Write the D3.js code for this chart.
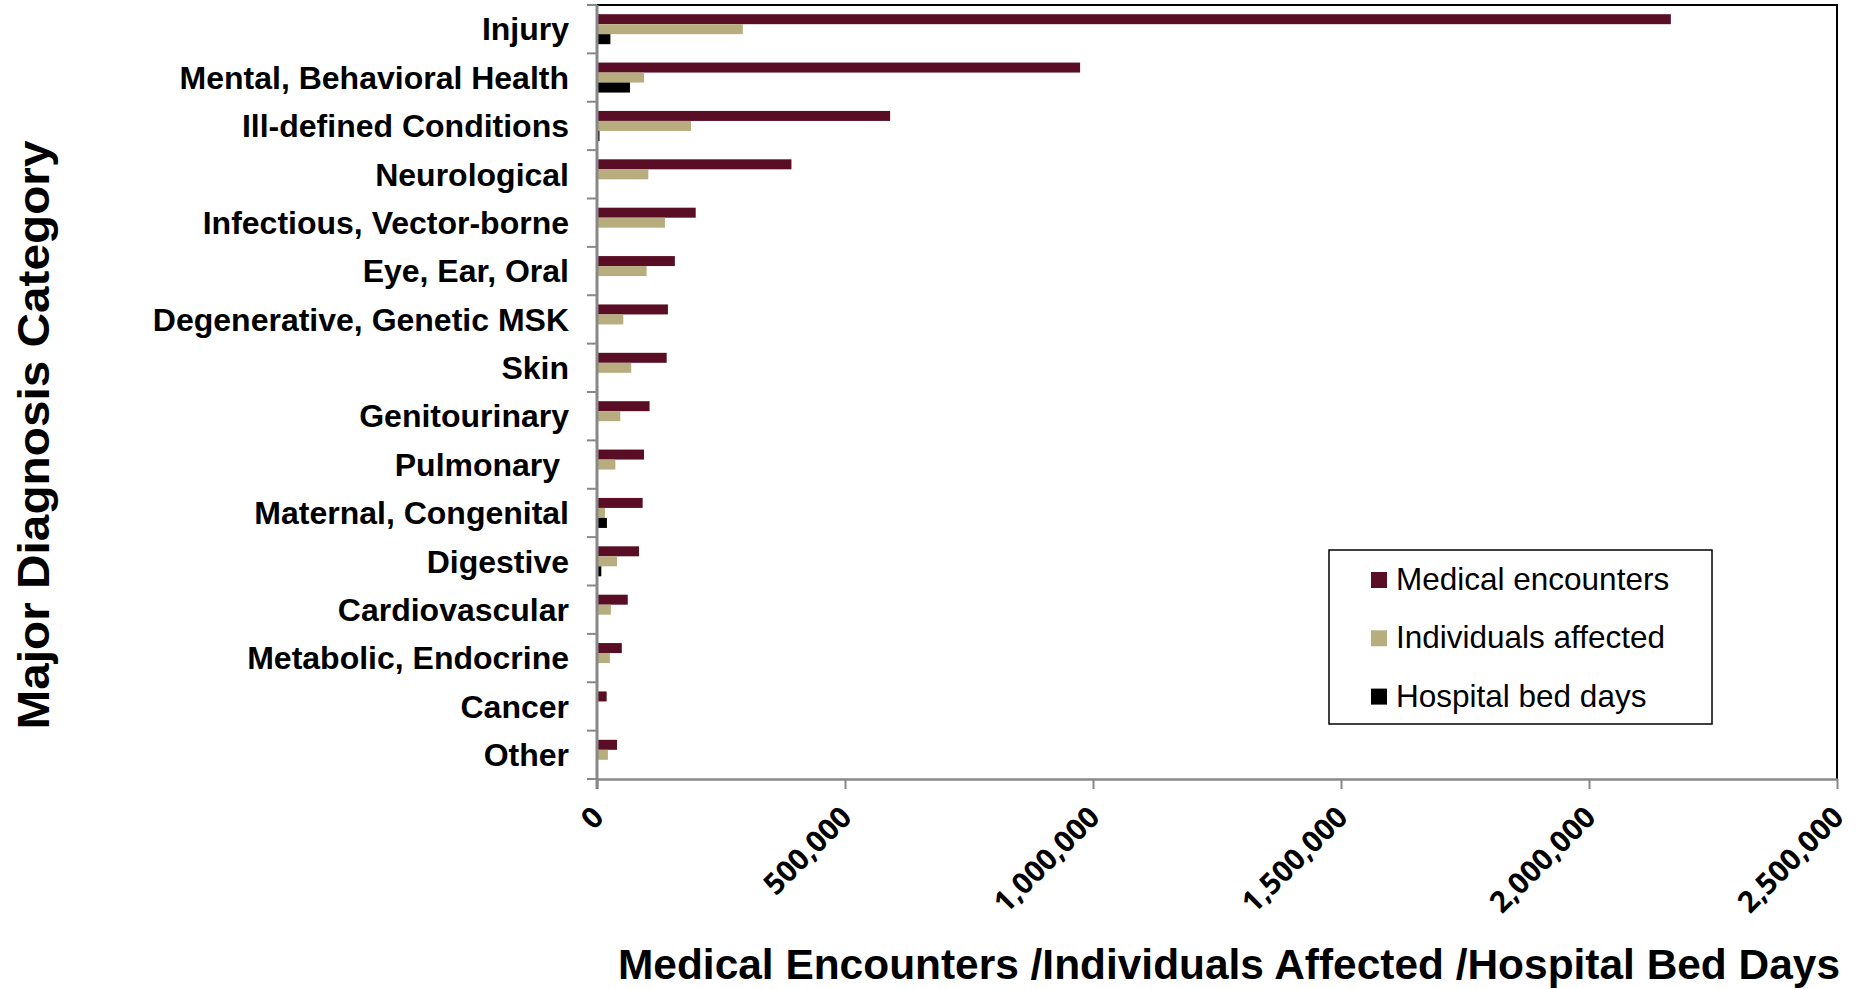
<!DOCTYPE html>
<html>
<head>
<meta charset="utf-8">
<script src="https://cdn.jsdelivr.net/npm/d3@7"></script>
<style>
  body { margin: 0; background: #fff; }
  svg { display: block; }
</style>
</head>
<body>
<svg width="1860" height="989"></svg>
<script>
// categories, top to bottom
var categories = ["Injury", "Mental, Behavioral Health", "Ill-defined Conditions", "Neurological",
  "Infectious, Vector-borne", "Eye, Ear, Oral", "Degenerative, Genetic MSK", "Skin",
  "Genitourinary", "Pulmonary ", "Maternal, Congenital", "Digestive",
  "Cardiovascular", "Metabolic, Endocrine", "Cancer", "Other"];

var medicalEncounters = [2165000, 974000, 591000, 392000, 199000, 157000, 143000, 140500,
  106000, 94700, 92000, 84700, 62000, 50000, 19500, 40300];
var individualsAffected = [294000, 95000, 189500, 103500, 137000, 100000, 53000, 69000,
  47000, 37000, 16000, 40300, 28000, 26000, 1500, 22000];
var hospitalBedDays = [27000, 66500, 5000, 0, 1500, 0, 0, 0,
  0, 0, 20000, 8700, 1500, 0, 0, 0];

var seriesNames = ["Medical encounters", "Individuals affected", "Hospital bed days"];
var seriesColors = ["#5a0e26", "#b8ad7e", "#000000"];
var xTicks = [0, 500000, 1000000, 1500000, 2000000, 2500000];

var svg = d3.select("svg");

var plotL = 597, plotR = 1837, plotT = 5, plotB = 779;

var x = d3.scaleLinear()
    .domain([0, 2500000])
    .range([plotL, plotR]);

var y0 = d3.scaleBand()
    .domain(categories)
    .range([plotT, plotB])
    .paddingInner(0.38)
    .paddingOuter(0.19);

var y1 = d3.scaleBand()
    .domain(seriesNames)
    .range([0, y0.bandwidth()]);

var rows = categories.map(function(c, i) {
  return { cat: c, vals: [medicalEncounters[i], individualsAffected[i], hospitalBedDays[i]] };
});

// plot frame (top and right in black)
svg.append("path")
    .attr("d", "M" + plotL + "," + plotT + "H" + plotR + "V" + plotB)
    .attr("fill", "none")
    .attr("stroke", "#000")
    .attr("stroke-width", 2);

// bars
var groups = svg.append("g").selectAll("g")
  .data(rows)
  .enter().append("g")
    .attr("transform", function(d) { return "translate(0," + y0(d.cat) + ")"; });

groups.selectAll("rect")
  .data(function(d) { return d.vals.map(function(v, k) { return { k: k, v: v }; }); })
  .enter().append("rect")
    .attr("x", x(0))
    .attr("y", function(d) { return y1(seriesNames[d.k]); })
    .attr("height", y1.bandwidth())
    .attr("width", function(d) { return x(d.v) - x(0); })
    .attr("fill", function(d) { return seriesColors[d.k]; });

// y axis: gray line, ticks between categories
var step = y0.step();
var yAxis = svg.append("g").attr("class", "y-axis");
yAxis.selectAll("line.tick")
  .data(d3.range(categories.length + 1))
  .enter().append("line")
    .attr("x1", plotL - 10)
    .attr("x2", plotL)
    .attr("y1", function(i) { return plotT + i * step; })
    .attr("y2", function(i) { return plotT + i * step; })
    .attr("stroke", "#888")
    .attr("stroke-width", 2);
yAxis.append("line")
    .attr("x1", plotL).attr("x2", plotL)
    .attr("y1", plotT).attr("y2", plotB + 10)
    .attr("stroke", "#888")
    .attr("stroke-width", 3);

yAxis.selectAll("text")
  .data(categories)
  .enter().append("text")
    .attr("x", 569)
    .attr("y", function(d) { return y0(d) + y0.bandwidth() / 2; })
    .attr("dy", "0.35em")
    .attr("text-anchor", "end")
    .style("white-space", "pre")
    .style("font-family", "'Liberation Sans', Arial, sans-serif")
    .style("font-weight", "bold")
    .style("font-size", "32px")
    .attr("fill", "#000")
    .text(function(d) { return d; });

// x axis
var xAxis = svg.append("g")
    .attr("transform", "translate(0," + plotB + ")")
    .call(d3.axisBottom(x).tickValues(xTicks).tickSize(10).tickSizeOuter(0).tickFormat(d3.format(",")));
xAxis.select(".domain").attr("stroke", "#888").attr("stroke-width", 2.5);
xAxis.selectAll(".tick line").attr("stroke", "#888").attr("stroke-width", 2);
xAxis.selectAll(".tick text")
    .attr("y", 0)
    .attr("dy", 0)
    .attr("text-anchor", "end")
    .attr("transform", "translate(8,40) rotate(-45)")
    .style("font-family", "'Open Sans', sans-serif")
    .style("font-weight", "700")
    .style("font-size", "29.5px")
    .attr("fill", "#000");

// axis titles
svg.append("text")
    .attr("x", 1229)
    .attr("y", 979)
    .attr("text-anchor", "middle")
    .style("font-family", "'Liberation Sans', Arial, sans-serif")
    .style("font-weight", "bold")
    .style("font-size", "42px")
    .attr("textLength", 1222)
    .attr("lengthAdjust", "spacingAndGlyphs")
    .text("Medical Encounters /Individuals Affected /Hospital Bed Days");

svg.append("text")
    .attr("transform", "translate(49,435) rotate(-90)")
    .attr("text-anchor", "middle")
    .style("font-family", "'Liberation Sans', Arial, sans-serif")
    .style("font-weight", "bold")
    .style("font-size", "44px")
    .attr("textLength", 589)
    .attr("lengthAdjust", "spacingAndGlyphs")
    .text("Major Diagnosis Category");

// legend
var legend = svg.append("g").attr("transform", "translate(1329,550)");
legend.append("rect")
    .attr("width", 383)
    .attr("height", 174)
    .attr("fill", "#fff")
    .attr("stroke", "#000")
    .attr("stroke-width", 1.5);

var items = legend.selectAll("g.item")
  .data(seriesNames)
  .enter().append("g")
    .attr("transform", function(d, i) { return "translate(42," + (22 + i * 58.3) + ")"; });
items.append("rect")
    .attr("width", 16)
    .attr("height", 16)
    .attr("fill", function(d, i) { return seriesColors[i]; });
items.append("text")
    .attr("x", 25)
    .attr("y", 18)
    .style("font-family", "'Liberation Sans', Arial, sans-serif")
    .style("font-size", "31.5px")
    .attr("fill", "#000")
    .text(function(d) { return d; });
</script>
</body>
</html>
